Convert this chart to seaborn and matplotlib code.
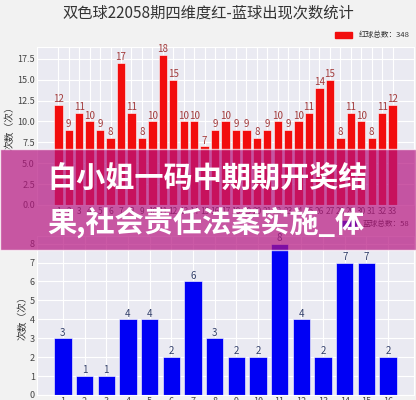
import numpy as np
import pandas as pd
import matplotlib
matplotlib.use('Agg')
import matplotlib.pyplot as plt
import matplotlib.patches as mpatches
import seaborn as sns

# 数据
red_balls = [str(i) for i in range(1, 34)]
red_counts = [12, 9, 11, 10, 9, 8, 17, 11, 8, 10, 18, 15, 10, 10, 7, 9, 10,
              9, 9, 8, 9, 10, 9, 10, 11, 14, 15, 8, 11, 10, 8, 11, 12]
blue_balls = [str(i) for i in range(1, 17)]
blue_counts = [3, 1, 1, 4, 4, 2, 6, 3, 2, 2, 8, 4, 2, 7, 7, 2]

title_text = '双色球22058期四维度红-蓝球出现次数统计'
banner_lines = ['白小姐一码中期期开奖结', '果,社会责任法案实施_体']

sns.set_style('darkgrid')
plt.rcParams['font.family'] = ['Noto Sans CJK SC', 'DejaVu Sans']
plt.rcParams['axes.unicode_minus'] = False

fig = plt.figure(figsize=(4.16, 4.0), dpi=100)
fig.patch.set_facecolor('#f2f2f2')

df_red = pd.DataFrame({'ball': red_balls, 'count': red_counts})
df_blue = pd.DataFrame({'ball': blue_balls, 'count': blue_counts})


def draw(ax, df, color, label_color, legend_text, xsize):
    sns.barplot(data=df, x='ball', y='count', ax=ax, color=color,
                saturation=1, width=0.8, edgecolor='#ffffff', linewidth=0.4)
    n = len(df)
    pad = 0.05 * (n - 1 + 0.8)
    ax.set_xlim(-0.4 - pad, n - 1 + 0.4 + pad)
    ax.set_ylim(0, max(df['count']) * 1.05)
    ax.xaxis.grid(True, color='white', linewidth=0.8)
    ax.yaxis.grid(True, color='white', linewidth=0.8)
    ax.set_facecolor('#eaeaf2')
    ax.set_xlabel('')
    ax.set_ylabel('次数（次）', fontsize=7, color='#333333', labelpad=2)
    ax.tick_params(axis='y', labelsize=6.5, colors='#444444', pad=1.5, length=0)
    ax.tick_params(axis='x', labelsize=xsize, colors='#444444', pad=1.5, length=0)
    for c in ax.containers:
        ax.bar_label(c, fontsize=7, color=label_color, padding=0.5)
    handle = mpatches.Patch(color=color)
    ax.legend([handle], [legend_text], loc='lower right', bbox_to_anchor=(1.0, 1.02),
              frameon=False, fontsize=5.5, handlelength=2.2, handleheight=0.8,
              borderaxespad=0.2, labelcolor='#333333')


ax_top = fig.add_axes([0.089, 0.4875, 0.906, 0.395])
draw(ax_top, df_red, '#f20d0d', '#a33b3b', f'红球总数：{sum(red_counts)}', 6)

ax_bot = fig.add_axes([0.089, 0.0125, 0.906, 0.3975])
draw(ax_bot, df_blue, '#0000f5', '#33406a', f'蓝球总数：{sum(blue_counts)}', 6.5)
ax_bot.set_yticks(range(0, 9))

fig.text(0.5, 1 - 13 / 400, title_text, ha='center', va='center',
         fontsize=11, color='#333333')

# 覆盖横幅
banner = mpatches.Rectangle((0, 1 - 250 / 400), 1, 101 / 400, transform=fig.transFigure,
                            facecolor=(0.71, 0.08, 0.5), alpha=0.7, zorder=10)
fig.patches.append(banner)
fig.text(47 / 416, 1 - 178 / 400, banner_lines[0], ha='left', va='center',
         fontsize=21, fontweight='bold', color='white', zorder=11)
fig.text(47 / 416, 1 - 222 / 400, banner_lines[1], ha='left', va='center',
         fontsize=21, fontweight='bold', color='white', zorder=11)

fig.savefig('out.png', dpi=100, facecolor=fig.get_facecolor())
